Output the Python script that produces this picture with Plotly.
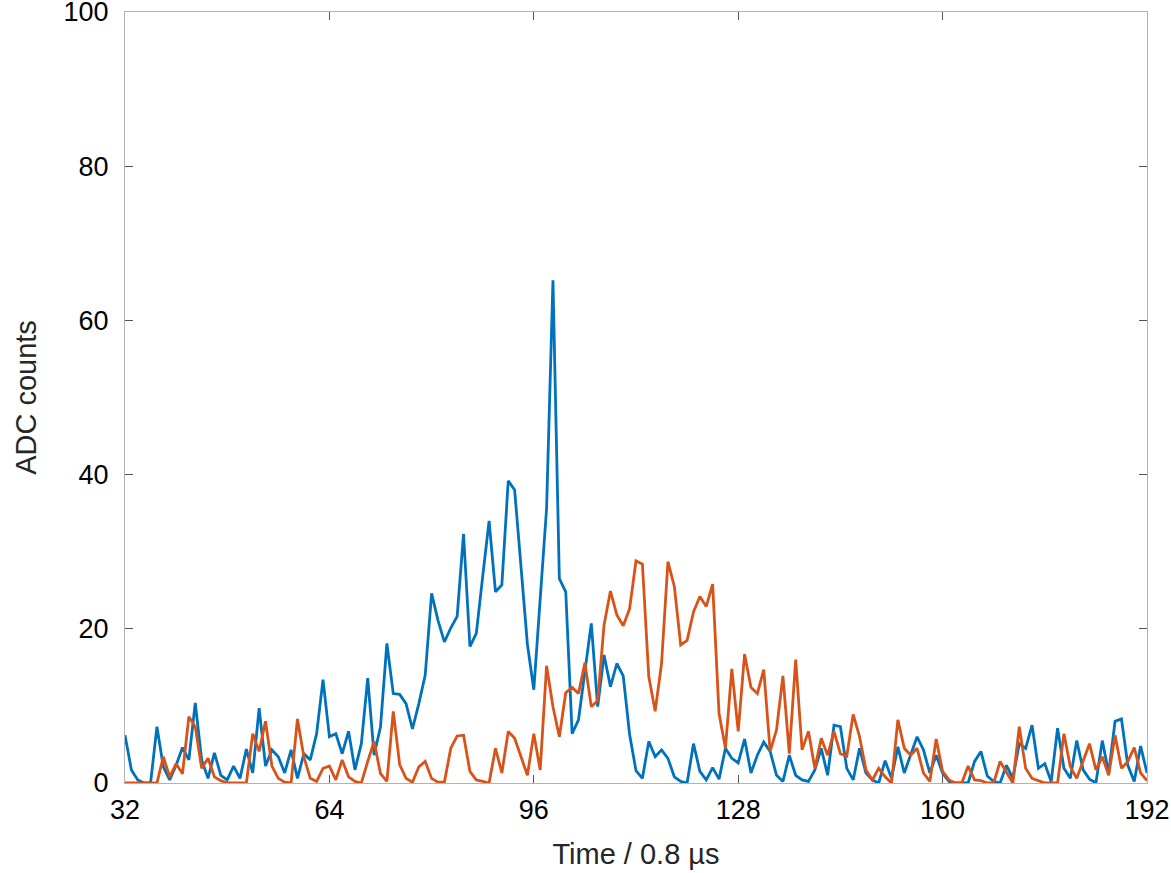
import plotly.graph_objects as go

time = list(range(32, 193))

blue_counts = [
    6.2, 1.7, 0.4, 0.0, 0.0, 7.3, 2.1, 0.4, 2.3, 4.6,   # 32-41
    3.0, 10.4, 3.0, 0.6, 3.9, 1.0, 0.4, 2.2, 0.6, 4.4,  # 42-51
    1.3, 9.7, 2.2, 4.3, 3.4, 1.3, 4.3, 0.6, 3.8, 3.0,   # 52-61
    6.4, 13.4, 6.0, 6.4, 3.8, 6.7, 1.7, 5.1, 13.6, 3.6, # 62-71
    7.3, 18.1, 11.6, 11.5, 10.3, 7.0, 10.3, 14.0, 24.6, 21.1,  # 72-81
    18.3, 20.1, 21.6, 32.3, 17.7, 19.4, 26.8, 34.0, 24.8, 25.7,  # 82-91
    39.2, 38.0, 28.0, 18.0, 12.1, 23.5, 35.6, 65.2, 26.5, 24.8,  # 92-101
    6.4, 8.2, 14.7, 20.7, 9.9, 16.6, 12.5, 15.5, 13.9, 6.3,  # 102-111
    1.6, 0.6, 5.4, 3.4, 4.3, 3.2, 0.8, 0.2, 0.0, 5.1,   # 112-121
    1.5, 0.4, 2.0, 0.5, 4.5, 3.2, 2.6, 5.7, 1.3, 3.6,   # 122-131
    5.3, 4.1, 1.0, 0.2, 3.6, 1.0, 0.4, 0.2, 1.7, 4.5,   # 132-141
    1.0, 7.5, 7.3, 1.9, 0.4, 4.5, 1.3, 0.4, 0.0, 2.9,   # 142-151
    0.6, 4.7, 1.3, 3.6, 6.0, 4.3, 1.3, 3.6, 1.3, 0.2,   # 152-161
    0.0, 0.0, 0.0, 2.8, 4.1, 0.9, 0.2, 0.0, 2.3, 0.6,   # 162-171
    5.1, 4.5, 7.5, 1.9, 2.5, 0.2, 7.1, 1.9, 0.6, 5.5,   # 172-181
    1.7, 0.5, 0.0, 5.5, 1.3, 8.0, 8.3, 2.3, 0.2, 4.8,   # 182-191
    1.3,                                                # 192
]

orange_counts = [
    0.0, 0.0, 0.0, 0.0, 0.0, 0.0, 3.4, 0.8, 2.5, 1.2,   # 32-41
    8.6, 7.3, 1.9, 3.2, 0.8, 0.3, 0.0, 0.0, 0.0, 0.0,   # 42-51
    6.4, 4.1, 8.0, 2.2, 0.6, 0.1, 0.0, 8.3, 3.4, 0.6,   # 52-61
    0.2, 1.9, 2.2, 0.4, 3.0, 0.8, 0.2, 0.0, 2.8, 5.4,   # 62-71
    1.2, 0.2, 9.3, 2.4, 0.6, 0.1, 2.1, 2.8, 0.6, 0.1,   # 72-81
    0.1, 4.5, 6.1, 6.2, 1.5, 0.4, 0.2, 0.0, 4.5, 1.3,   # 82-91
    6.7, 5.8, 3.4, 1.0, 6.4, 1.7, 15.2, 9.9, 6.0, 11.7, # 92-101
    12.4, 11.6, 15.6, 9.9, 10.7, 20.5, 24.9, 21.8, 20.4, 22.6,  # 102-111
    28.8, 28.4, 13.8, 9.3, 15.5, 28.7, 25.5, 17.9, 18.5, 22.2,  # 112-121
    24.2, 22.9, 25.8, 9.0, 4.5, 14.8, 6.7, 16.7, 12.4, 11.6,   # 122-131
    14.7, 4.1, 6.9, 13.9, 3.8, 16.0, 4.3, 6.7, 1.9, 5.8,   # 132-141
    3.6, 6.7, 3.8, 3.5, 8.9, 6.0, 1.7, 0.4, 1.9, 0.8,   # 142-151
    0.0, 8.2, 4.5, 3.6, 4.5, 1.3, 0.2, 5.7, 1.5, 0.4,   # 152-161
    0.0, 0.0, 2.2, 0.4, 0.3, 0.0, 0.0, 2.8, 1.4, 0.0,   # 162-171
    7.3, 1.9, 0.6, 0.3, 0.0, 0.0, 0.0, 6.4, 2.1, 0.6,   # 172-181
    3.0, 5.1, 1.7, 3.4, 1.0, 6.2, 1.9, 2.8, 4.6, 1.3,   # 182-191
    0.3,                                                # 192
]

x_ticks = [32, 64, 96, 128, 160, 192]
y_ticks = [0, 20, 40, 60, 80, 100]

fig = go.Figure()
fig.add_trace(go.Scatter(x=time, y=blue_counts, mode="lines",
                         line=dict(color="#0072BD", width=2.8), showlegend=False))
fig.add_trace(go.Scatter(x=time, y=orange_counts, mode="lines",
                         line=dict(color="#D95319", width=2.8), showlegend=False))

axis_common = dict(
    showline=True, linecolor="#b3b3b3", linewidth=1, mirror="ticks",
    ticks="inside", ticklen=8, tickcolor="#555555", tickwidth=1,
    showgrid=False, zeroline=False, ticklabeloverflow="allow", automargin=False,
    tickfont=dict(family="Liberation Sans, Arial, sans-serif", size=27, color="#000000"),
)

fig.update_layout(
    width=1171, height=873,
    margin=dict(l=125, r=24, t=12, b=90),
    paper_bgcolor="white", plot_bgcolor="white",
    font=dict(family="Liberation Sans, Arial, sans-serif"),
    xaxis=dict(range=[32, 192], tickvals=x_ticks, ticktext=[str(v) for v in x_ticks],
               ticklabelstandoff=3,
               title=dict(text="Time / 0.8 µs", font=dict(size=29, color="#262626"), standoff=19),
               **axis_common),
    yaxis=dict(range=[0, 100], tickvals=y_ticks, ticktext=[str(v) for v in y_ticks],
               ticklabelstandoff=10,
               title=dict(text="ADC counts", font=dict(size=29, color="#262626"), standoff=18),
               **axis_common),
)

fig.write_html("out.html")
